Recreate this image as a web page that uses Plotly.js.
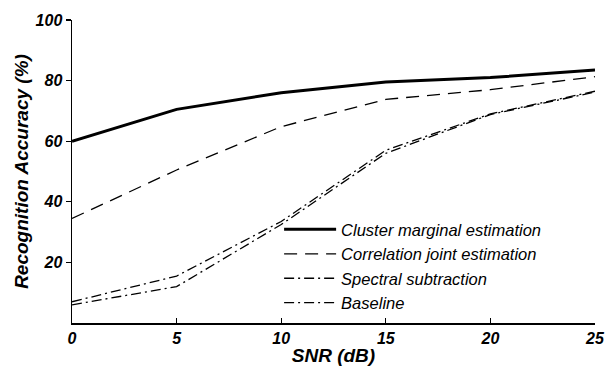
<!DOCTYPE html>
<html>
<head>
<meta charset="utf-8">
<script src="https://cdn.plot.ly/plotly-3.0.1.min.js"></script>
<style>html,body{margin:0;padding:0;background:#fff;}#chart{width:610px;height:371px;}</style>
</head>
<body>
<div id="chart"></div>
<script>
const snr = [0, 5, 10, 15, 20, 25];
const clusterMarginal = [60, 70.5, 76, 79.5, 81, 83.5];
const correlationJoint = [34.5, 50.5, 64.8, 73.8, 77, 81.3];
const spectralSubtraction = [7, 15.5, 33.5, 57, 69, 76.5];
const baseline = [6, 12, 32.5, 56, 68.8, 76.2];
const xTicks = [0, 5, 10, 15, 20, 25];
const yTicks = [20, 40, 60, 80, 100];

const FONT = '"Liberation Sans", Arial, Helvetica, sans-serif';

const traces = [
  {x: snr, y: clusterMarginal, name: 'Cluster marginal estimation', mode: 'lines',
   line: {color: '#000', width: 3}},
  {x: snr, y: correlationJoint, name: 'Correlation joint estimation', mode: 'lines',
   line: {color: '#000', width: 1.3, dash: '13px,8px'}},
  {x: snr, y: spectralSubtraction, name: 'Spectral subtraction', mode: 'lines',
   line: {color: '#000', width: 1.3, dash: '10px,4px,2px,4px'}},
  {x: snr, y: baseline, name: 'Baseline', mode: 'lines',
   line: {color: '#000', width: 1.3, dash: '10px,4px,2px,4px'}}
];

const tickFont = {family: FONT, size: 16, color: '#000000', weight: 700, style: 'italic'};

const layout = {
  width: 610, height: 371,
  margin: {l: 72, r: 15, t: 20, b: 48},
  paper_bgcolor: '#fff', plot_bgcolor: '#fff',
  showlegend: true,
  legend: {
    x: 0.396, y: 0.366, xanchor: 'left', yanchor: 'top',
    bgcolor: 'rgba(0,0,0,0)', borderwidth: 0,
    itemwidth: 52,
    font: {family: FONT, size: 16.5, color: '#000', style: 'italic'}
  },
  xaxis: {
    range: [0, 25], tickvals: xTicks, ticktext: xTicks.map(String),
    ticks: 'inside', ticklen: 5, tickcolor: '#000', tickwidth: 1.3,
    showline: true, linecolor: '#000', linewidth: 1.5,
    showgrid: false, zeroline: false, mirror: false,
    tickfont: tickFont,
    title: {text: 'SNR (dB)', standoff: 3, font: {family: FONT, size: 19, color: '#000', weight: 700, style: 'italic'}}
  },
  yaxis: {
    range: [0, 100], tickvals: yTicks, ticktext: yTicks.map(String),
    ticks: 'outside', ticklen: 5, tickcolor: '#000', tickwidth: 1.3,
    showline: true, linecolor: '#000', linewidth: 1.5,
    showgrid: false, zeroline: false, mirror: false,
    tickfont: tickFont,
    title: {text: 'Recognition Accuracy (%)', standoff: 2, font: {family: FONT, size: 19, color: '#000', weight: 700, style: 'italic'}}
  }
};

Plotly.newPlot('chart', traces, layout, {displayModeBar: false, staticPlot: true});
</script>
</body>
</html>
